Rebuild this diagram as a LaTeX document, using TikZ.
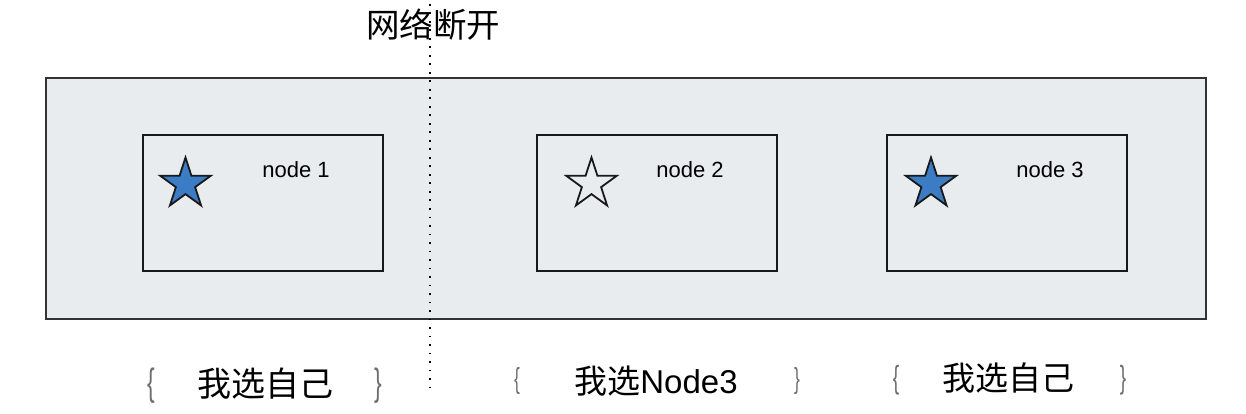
\documentclass[tikz,border=0pt]{standalone}
\usepackage{fontspec}
\setmainfont{Liberation Sans}
\newfontfamily\cjk{Noto Sans CJK SC}
\usetikzlibrary{shapes.geometric}
\definecolor{panelgray}{HTML}{E9ECEE}
\definecolor{starblue}{HTML}{3B7CC4}
\definecolor{bracegray}{HTML}{6E6E6E}
\newcommand{\narrowbrace}[1]{\scalebox{0.6}[1]{#1}}
\tikzset{
  panel/.style={draw=black!80, line width=1.4pt, fill=panelgray},
  nodebox/.style={draw=black!90, line width=1.8pt, fill=panelgray},
  starshape/.style={star, star points=5, star point ratio=2.618, minimum size=53pt, inner sep=0pt, draw=black!90, line width=1.8pt},
  nlabel/.style={font=\fontsize{22}{26}\selectfont, inner sep=0pt},
  clabel/.style={font=\cjk\fontsize{33}{36}\selectfont, inner sep=0pt},
  bracetext/.style={text=bracegray, inner sep=0pt},
  cut/.style={line width=1.9pt, dash pattern=on 1.9pt off 6.6pt}
}
\begin{document}
\begin{tikzpicture}[x=1pt,y=-1pt]
\useasboundingbox (0,0) rectangle (1246,414);
\fill[white] (0,0) rectangle (1246,414);
\draw[panel] (46,78) rectangle (1206,319);
\node[nodebox, minimum width=240pt, minimum height=136pt, anchor=north west] (n1) at (142,134) {};
\node[nodebox, minimum width=240pt, minimum height=136pt, anchor=north west] (n2) at (536,134) {};
\node[nodebox, minimum width=240pt, minimum height=136pt, anchor=north west] (n3) at (886,134) {};
\node[starshape, fill=starblue] (s1) at (185.5,184) {};
\node[starshape, fill=none] (s2) at (591.5,184) {};
\node[starshape, fill=starblue] (s3) at (931,184) {};
\node[nlabel] (l1) at (296,170) {node 1};
\node[nlabel] (l2) at (690,170) {node 2};
\node[nlabel] (l3) at (1050,170) {node 3};
\node[clabel, font=\cjk\fontsize{33.5}{36}\selectfont] (title) at (433,25) {网络断开};
\coordinate (cuttop) at (430,4);
\coordinate (cutbot) at (430,394);
\draw[cut] (cuttop) -- (cutbot);
\node[clabel, font=\cjk\fontsize{34}{36}\selectfont] (c1) at (265,384) {我选自己};
\node[bracetext, font=\fontsize{38}{40}\selectfont] (b1l) at (151,386) {\narrowbrace{\{}};
\node[bracetext, font=\fontsize{38}{40}\selectfont] (b1r) at (378,386) {\narrowbrace{\}}};
\node[clabel] (c2) at (656,381) {我选{\fontsize{33}{36}\selectfont\rmfamily Node3}};
\node[bracetext, font=\fontsize{29}{31}\selectfont] (b2l) at (517,381) {\narrowbrace{\{}};
\node[bracetext, font=\fontsize{29}{31}\selectfont] (b2r) at (797,381) {\narrowbrace{\}}};
\node[clabel] (c3) at (1008,378) {我选自己};
\node[bracetext, font=\fontsize{32}{34}\selectfont] (b3l) at (896,380) {\narrowbrace{\{}};
\node[bracetext, font=\fontsize{32}{34}\selectfont] (b3r) at (1123,380) {\narrowbrace{\}}};
\end{tikzpicture}
\end{document}
